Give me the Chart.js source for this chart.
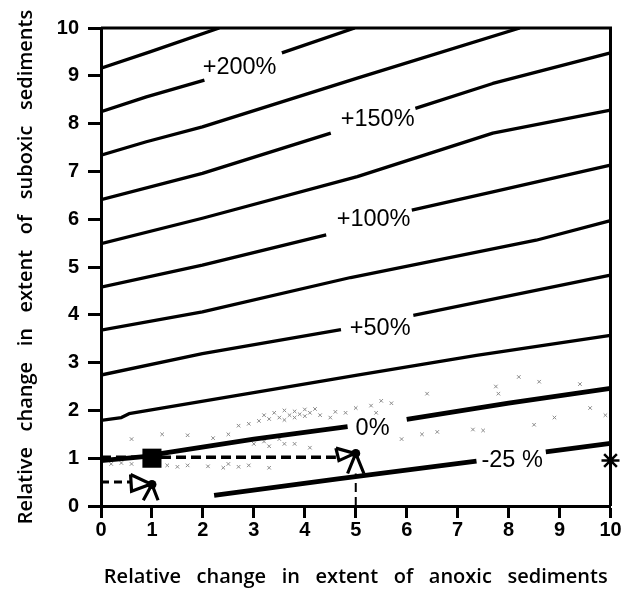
<!DOCTYPE html>
<html>
<head>
<meta charset="utf-8">
<script src="https://cdn.jsdelivr.net/npm/chart.js@4.4.1/dist/chart.umd.min.js"></script>
<style>
  html, body { margin: 0; padding: 0; background: #fff; }
  #wrap { width: 624px; height: 590px; }
</style>
</head>
<body>
<div id="wrap"><canvas id="c" width="624" height="590"></canvas></div>
<script>
// ---- Data (x = relative change in anoxic extent, y = relative change in suboxic extent)
const xTicks = [0, 1, 2, 3, 4, 5, 6, 7, 8, 9, 10];
const yTicks = [0, 1, 2, 3, 4, 5, 6, 7, 8, 9, 10];

// contour lines (null = break where a label sits)
const contourTop = [[0, 9.16], [0.96, 9.50], [2.32, 10]];
const contour200 = [[0, 8.25], [0.89, 8.56], [2.03, 8.91], null, [3.55, 9.48], [4.98, 10]];
const contour175 = [[0, 7.34], [0.89, 7.62], [1.99, 7.93], [5.03, 8.95], [8.22, 10]];
const contour150 = [[0, 6.41], [1.99, 6.96], [4.51, 7.80], null, [6.17, 8.32], [7.69, 8.84], [10, 9.48]];
const contour125 = [[0, 5.49], [1.99, 6.02], [5.03, 6.89], [7.69, 7.80], [10, 8.28]];
const contour100 = [[0, 4.58], [1.99, 5.04], [4.42, 5.67], null, [6.10, 6.19], [7.69, 6.57], [10, 7.13]];
const contour75 = [[0, 3.68], [1.99, 4.06], [4.90, 4.78], [8.54, 5.56], [10, 5.97]];
const contour50 = [[0, 2.74], [1.99, 3.19], [4.71, 3.69], null, [6.13, 3.99], [10, 4.83]];
const contour25 = [[0, 1.79], [0.40, 1.85], [0.55, 1.93], [3.87, 2.53], [5.03, 2.74], [7.37, 3.15], [10, 3.57]];
const contour0 = [[0, 0.95], [1, 1.05], [1.2, 1.10], [3.0, 1.40], [4.84, 1.66], null, [6.0, 1.81], [8.0, 2.15], [10, 2.46]];
const contourMinus25 = [[2.22, 0.22], [4.65, 0.57], [7.37, 0.94], null, [8.73, 1.13], [10, 1.31]];

const thinContours = [contourTop, contour200, contour175, contour150, contour125, contour100, contour75, contour50, contour25];
const thickContours = [contour0, contourMinus25];

// contour labels
const labelTexts = ['+200%', '+150%', '+100%', '+50%', '0%', '-25 %'];
const labelX = [2.72, 5.43, 5.35, 5.48, 5.33, 8.07];
const labelY = [9.17, 8.09, 6.00, 3.71, 1.62, 0.96];

// reference point, guides and markers
const refSquare = [[1, 1]];
const asterisk = [[10, 0.95]];
const dots = [[1, 0.45], [5, 1.10]];
const guideH1 = [[0, 1.02], [4.61, 1.02]];
const guideH2 = [[0, 0.50], [0.60, 0.50]];
const guideV = [[5, 0], [5, 0.68]];
const arrowTri1 = [[0.58, 0.66], [0.98, 0.46], [0.60, 0.31], [0.58, 0.66]];
const arrowChev1 = [[0.83, 0.12], [1.0, 0.45], [1.12, 0.12]];
const arrowTri2 = [[4.61, 1.21], [4.98, 1.10], [4.67, 0.95], [4.61, 1.21]];
const arrowChev2 = [[4.84, 0.68], [5.0, 1.10], [5.16, 0.68]];

// grey stipple (hand-placed)
const stipple = [
  [2.7, 1.68], [2.9, 1.72], [3.1, 1.78], [3.3, 1.82], [3.5, 1.85], [3.7, 1.90], [3.9, 1.92], [4.1, 1.95],
  [4.3, 1.90], [4.5, 1.85], [3.4, 1.95], [3.6, 2.00], [3.8, 1.98], [4.0, 2.02], [4.2, 2.03], [3.2, 1.90],
  [3.6, 1.80], [3.8, 1.85], [4.0, 1.88], [4.6, 1.97], [4.8, 1.95],
  [3.0, 1.30], [3.2, 1.35], [3.3, 1.25], [3.5, 1.40], [3.6, 1.30], [3.8, 1.30], [4.1, 1.22],
  [1.3, 0.85], [1.5, 0.82], [1.7, 0.85], [2.1, 0.83], [2.4, 0.80], [2.5, 0.88], [2.7, 0.82], [2.9, 0.85], [3.3, 0.80],
  [0.2, 0.88], [0.4, 0.90], [0.6, 0.88],
  [0.6, 1.40], [1.2, 1.50], [1.7, 1.48], [2.2, 1.42], [2.5, 1.50],
  [5.0, 2.05], [5.3, 2.10], [5.5, 2.20], [5.7, 2.15], [5.4, 1.95],
  [5.9, 1.40], [6.3, 1.50], [6.6, 1.55], [7.3, 1.60], [7.5, 1.58],
  [7.75, 2.50], [7.8, 2.35], [8.2, 2.70], [8.6, 2.60], [8.9, 1.85], [8.5, 1.70], [9.4, 2.55], [9.6, 2.05], [9.9, 1.90], [6.4, 2.35]
];

// ---- helpers
const pts = arr => arr.map(p => ({ x: p[0], y: p[1] }));
function segments(arr) {
  const out = []; let cur = [];
  arr.forEach(p => { if (p === null) { if (cur.length) out.push(cur); cur = []; } else cur.push(p); });
  if (cur.length) out.push(cur);
  return out;
}
function lineDs(arr, width, extra) {
  return Object.assign({
    data: pts(arr), showLine: true, pointRadius: 0, borderColor: '#000', backgroundColor: '#000',
    borderWidth: width, fill: false, tension: 0, borderCapStyle: 'butt', borderJoinStyle: 'round', order: 5
  }, extra || {});
}

const datasets = [];
datasets.push({
  data: pts(stipple), showLine: false, pointStyle: 'crossRot', pointRadius: 2.5,
  borderColor: '#8a8a8a', borderWidth: 1, backgroundColor: '#8a8a8a', order: 10
});
thinContours.forEach(c => segments(c).forEach(s => datasets.push(lineDs(s, 3.3))));
thickContours.forEach(c => segments(c).forEach(s => datasets.push(lineDs(s, 4.8))));
datasets.push(lineDs(guideH1, 3.5, { borderDash: [10, 5], order: 3 }));
datasets.push(lineDs(guideH2, 3, { borderDash: [8, 5], order: 3 }));
datasets.push(lineDs(guideV, 2, { borderDash: [9, 5], order: 3, clip: false }));
[arrowTri1, arrowTri2].forEach(t => datasets.push(lineDs(t, 3.2, { order: 2, borderJoinStyle: 'miter', fill: true, backgroundColor: '#fff' })));
[arrowChev1, arrowChev2].forEach(t => datasets.push(lineDs(t, 3.2, { order: 2, borderJoinStyle: 'miter' })));
datasets.push({ data: pts(dots), pointStyle: 'circle', pointRadius: 4.5, backgroundColor: '#000', borderWidth: 0, order: 1, clip: false });
datasets.push({ data: pts(refSquare), pointStyle: 'rect', pointRadius: 13.5, backgroundColor: '#000', borderWidth: 0, order: 1, clip: false });
datasets.push({ data: pts(asterisk), pointStyle: 'star', pointRadius: 9, borderColor: '#000', backgroundColor: '#000', borderWidth: 2.5, order: 1, clip: false });

const framePlugin = {
  id: 'frame',
  afterDatasetsDraw(chart) {
    const { ctx, chartArea: a } = chart;
    ctx.save();
    ctx.strokeStyle = '#000';
    ctx.lineWidth = 3;
    ctx.beginPath();
    ctx.moveTo(a.left, a.top);
    ctx.lineTo(a.right, a.top);
    ctx.lineTo(a.right, a.bottom);
    ctx.stroke();
    ctx.restore();
  }
};
const labelPlugin = {
  id: 'contourLabels',
  afterDatasetsDraw(chart) {
    const { ctx, scales } = chart;
    ctx.save();
    ctx.fillStyle = '#000';
    ctx.font = '23.5px "Liberation Sans", Arial, sans-serif';
    ctx.textAlign = 'center';
    ctx.textBaseline = 'middle';
    labelTexts.forEach((t, i) => {
      ctx.fillText(t, scales.x.getPixelForValue(labelX[i]), scales.y.getPixelForValue(labelY[i]));
    });
    ctx.restore();
  }
};

const tickFont = { family: '"Liberation Sans", Arial, sans-serif', size: 20, weight: 'bold' };
const titleFont = { family: '"Open Sans", sans-serif', size: 20, weight: 600 };

new Chart(document.getElementById('c'), {
  type: 'scatter',
  data: { datasets },
  options: {
    responsive: false,
    animation: false,
    events: [],
    layout: { padding: { top: 28, right: 9, left: 0, bottom: 0 } },
    plugins: { legend: { display: false }, tooltip: { enabled: false } },
    scales: {
      x: {
        type: 'linear', min: xTicks[0], max: xTicks[xTicks.length - 1],
        afterBuildTicks(s) { s.ticks = xTicks.map(v => ({ value: v })); },
        ticks: { color: '#000', font: tickFont, padding: 0, maxRotation: 0, autoSkip: false },
        grid: { drawOnChartArea: false, drawTicks: true, tickLength: 12, tickWidth: 3, tickColor: '#000' },
        border: { display: true, color: '#000', width: 3 },
        title: { display: true, text: 'Relative   change   in   extent   of   anoxic   sediments', color: '#000', font: titleFont, padding: { top: 0, bottom: 1 } },
        afterFit(s) { s.height = 84; s.paddingLeft = 0; s.paddingRight = 0; }
      },
      y: {
        type: 'linear', min: yTicks[0], max: yTicks[yTicks.length - 1],
        afterBuildTicks(s) { s.ticks = yTicks.map(v => ({ value: v })); },
        ticks: { color: '#000', font: tickFont, padding: 9, autoSkip: false },
        grid: { drawOnChartArea: false, drawTicks: true, tickLength: 13, tickWidth: 3, tickColor: '#000' },
        border: { display: true, color: '#000', width: 3 },
        title: { display: true, text: 'Relative   change   in   extent   of   suboxic   sediments', color: '#000', font: titleFont, padding: { top: 14, bottom: 0 } },
        afterFit(s) { s.width = 101; s.paddingTop = 0; s.paddingBottom = 0; }
      }
    }
  },
  plugins: [framePlugin, labelPlugin]
});
</script>
</body>
</html>
